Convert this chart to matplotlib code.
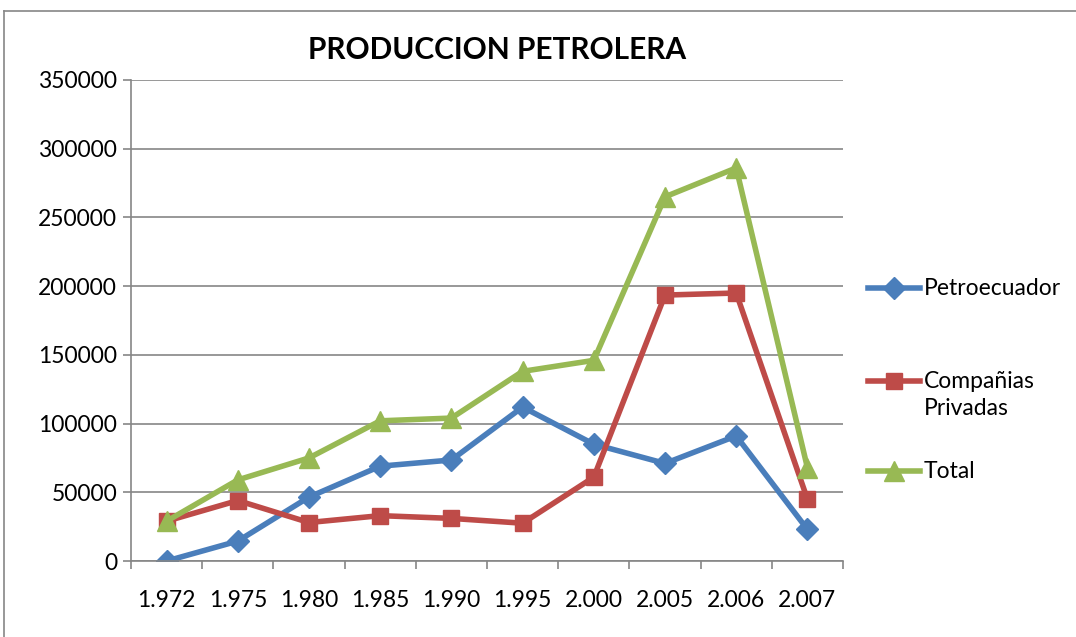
import matplotlib.pyplot as plt
from matplotlib.lines import Line2D

years = ["1.972", "1.975", "1.980", "1.985", "1.990", "1.995", "2.000", "2.005", "2.006", "2.007"]
petroecuador = [0, 14500, 46500, 69000, 73500, 112000, 85000, 71000, 91000, 23000]
privadas = [29000, 44000, 28000, 33000, 31000, 27500, 61000, 193500, 195000, 45000]
total = [29000, 59000, 75000, 102000, 104000, 138000, 146000, 265000, 286000, 68000]
series_names = ["Petroecuador", "Compañias\nPrivadas", "Total"]

plt.rcParams["font.family"] = ["Lato", "DejaVu Sans"]

W, H = 1076, 637
fig = plt.figure(figsize=(W / 100, H / 100), dpi=100)
ax = fig.add_axes([131 / W, 1 - 561 / H, 712 / W, 481 / H])

x = list(range(len(years)))
styles = [
    dict(color="#4A7EBB", marker="D", ms=11),
    dict(color="#BE4B48", marker="s", ms=12),
    dict(color="#98B954", marker="^", ms=14),
]
for values, st in zip([petroecuador, privadas, total], styles):
    ax.plot(x, values, lw=4, **st)

ax.set_xlim(-0.5, len(years) - 0.5)
ax.set_ylim(0, 350000)
ax.set_yticks(range(0, 350001, 50000))
ax.set_yticklabels([str(v) for v in range(0, 350001, 50000)])
ax.set_xticks(x)
ax.set_xticklabels(years)
ax.set_xticks([i - 0.5 for i in range(len(years) + 1)], minor=True)
ax.tick_params(axis="x", which="major", length=0, labelsize=16.5, pad=21)
ax.tick_params(axis="x", which="minor", length=6, color="#868686", width=1.2)
ax.tick_params(axis="y", length=6, color="#868686", width=1.2, labelsize=16.5, pad=4)
ax.grid(axis="y", color="#868686", lw=1.2)
ax.set_axisbelow(True)
for side in ["top", "right"]:
    ax.spines[side].set_visible(False)
for side in ["left", "bottom"]:
    ax.spines[side].set_color("#868686")
    ax.spines[side].set_linewidth(1.2)

fig.text(0.462, 0.921, "PRODUCCION PETROLERA", ha="center", va="center",
         fontsize=21.5, fontweight="bold")

# legend drawn by hand so the two-line entry keeps its handle on the first line
legend_rows = [288, 381, 471]
for name, st, py in zip(series_names, styles, legend_rows):
    fy = 1 - py / H
    fig.add_artist(Line2D([868 / W, 894 / W, 920 / W], [fy] * 3, lw=4,
                          markevery=[1], **st))
    fig.text(924 / W, fy + 10 / H, name, ha="left", va="top", fontsize=16.5,
             linespacing=1.35)

# outer chart border
fig.add_artist(Line2D([4 / W, 1.0], [1 - 11 / H] * 2, color="#868686", lw=1.2))
fig.add_artist(Line2D([4 / W] * 2, [0, 1 - 11 / H], color="#868686", lw=1.2))

fig.savefig("out.png", dpi=100)
